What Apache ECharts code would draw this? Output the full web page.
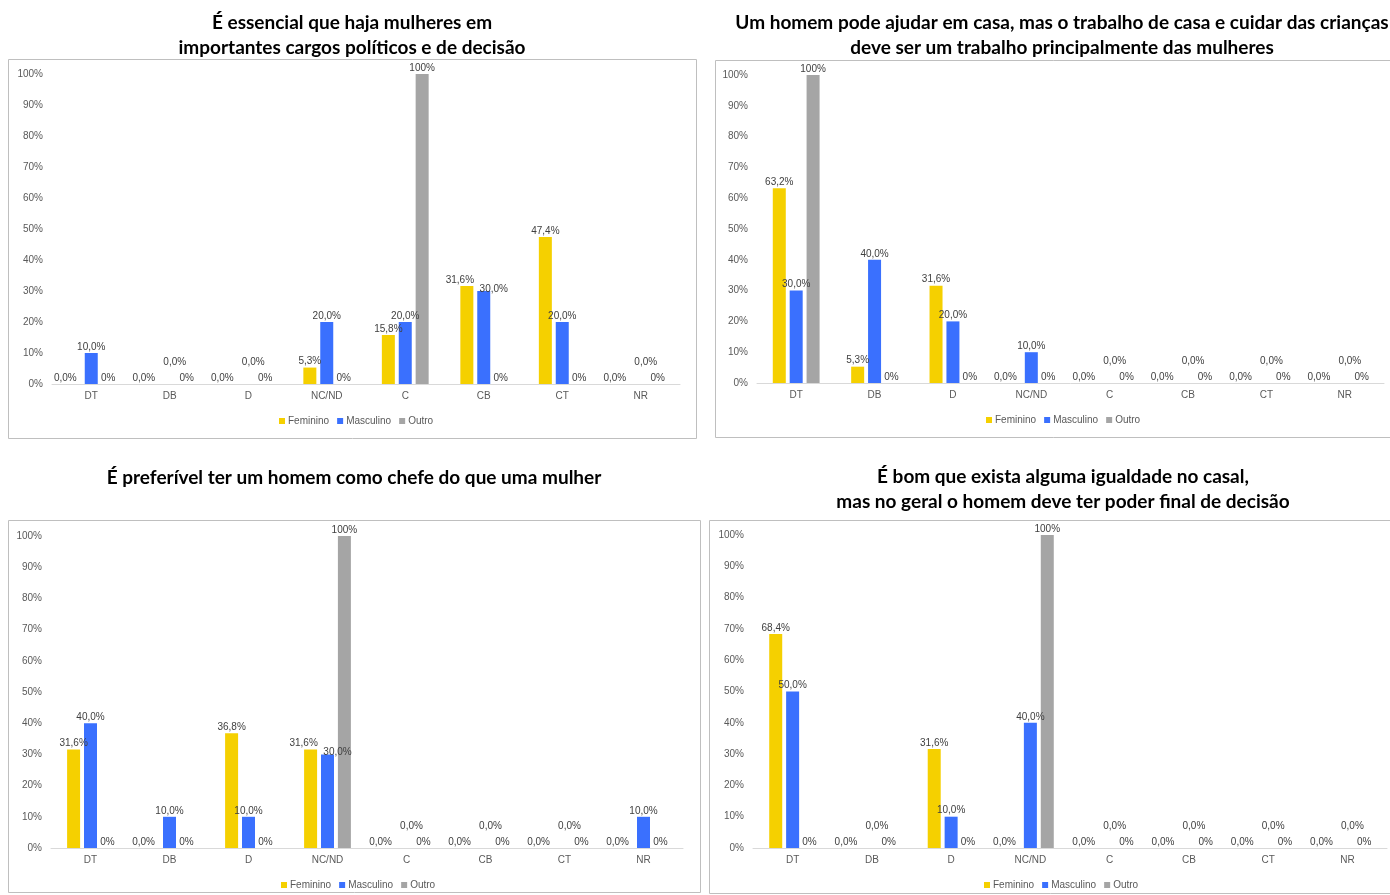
<!DOCTYPE html>
<html>
<head>
<meta charset="utf-8">
<script src="https://cdn.jsdelivr.net/npm/echarts@6/dist/echarts.min.js"></script>
<style>
html,body{margin:0;padding:0;background:#fff;}
#c{width:1390px;height:895px;}
</style>
</head>
<body>
<div id="c"></div>
<script>
// ---- data ----
const categories = ['DT','DB','D','NC/ND','C','CB','CT','NR'];
const seriesNames = ['Feminino','Masculino','Outro'];
const yTicks = [0,10,20,30,40,50,60,70,80,90,100];

const title1 = 'É essencial que haja mulheres em\nimportantes cargos políticos e de decisão';
const fem1 = [0, 0, 0, 5.3, 15.8, 31.6, 47.4, 0];
const masc1 = [10, 0, 0, 20, 20, 30, 20, 0];
const outro1 = [0, 0, 0, 0, 100, 0, 0, 0];

const title2 = 'Um homem pode ajudar em casa, mas o trabalho de casa e cuidar das crianças\ndeve ser um trabalho principalmente das mulheres';
const fem2 = [63.2, 5.3, 31.6, 0, 0, 0, 0, 0];
const masc2 = [30, 40, 20, 10, 0, 0, 0, 0];
const outro2 = [100, 0, 0, 0, 0, 0, 0, 0];

const title3 = 'É preferível ter um homem como chefe do que uma mulher';
const fem3 = [31.6, 0, 36.8, 31.6, 0, 0, 0, 0];
const masc3 = [40, 10, 10, 30, 0, 0, 0, 10];
const outro3 = [0, 0, 0, 100, 0, 0, 0, 0];

const title4 = 'É bom que exista alguma igualdade no casal,\nmas no geral o homem deve ter poder final de decisão';
const fem4 = [68.4, 0, 31.6, 0, 0, 0, 0, 0];
const masc4 = [50, 0, 10, 40, 0, 0, 0, 0];
const outro4 = [0, 0, 0, 100, 0, 0, 0, 0];

// ---- layout / style ----
const COLORS = ['#F5D000', '#3A70FE', '#A5A5A5'];
const panels = [
  {title: title1, data: [fem1, masc1, outro1], cx: 352, ty: 22, box: [8, 59, 688, 379], grid: {left: 52, top: 74, width: 628, height: 310}, legendLeft: 274, legendTop: 411},
  {title: title2, data: [fem2, masc2, outro2], cx: 1062, ty: 22, box: [715, 60, 680, 377], grid: {left: 757, top: 75, width: 627, height: 308}, legendLeft: 981, legendTop: 410},
  {title: title3, data: [fem3, masc3, outro3], cx: 354, ty: 477, box: [8, 520, 692, 372], grid: {left: 51, top: 536, width: 632, height: 312}, legendLeft: 276, legendTop: 875},
  {title: title4, data: [fem4, masc4, outro4], cx: 1063, ty: 476, box: [709, 520, 686, 373], grid: {left: 753, top: 535, width: 634, height: 313}, legendLeft: 979, legendTop: 875}
];

const fmtDec = v => v.toFixed(1).replace('.', ',') + '%';
const fmtInt = v => v.toFixed(0) + '%';

const option = {
  animation: false,
  backgroundColor: '#ffffff',
  color: COLORS,
  graphic: [],
  grid: [], xAxis: [], yAxis: [], legend: [], series: []
};

panels.forEach((p, i) => {
  option.graphic.push({
    type: 'rect', silent: true,
    shape: {x: p.box[0] + 0.5, y: p.box[1] + 0.5, width: p.box[2], height: p.box[3]},
    style: {fill: 'none', stroke: '#BFBFBF', lineWidth: 1}
  });
  const lines = p.title.split('\n');
  lines.forEach((ln, k) => {
    option.graphic.push({
      type: 'text', silent: true,
      x: p.cx, y: p.ty + 1 + k * 25,
      style: {text: ln, align: 'center', verticalAlign: 'middle', fill: '#000', font: 'bold 19px Lato'}
    });
  });
  option.grid.push(Object.assign({containLabel: false}, p.grid));
  option.xAxis.push({
    type: 'category', gridIndex: i, data: categories,
    axisLine: {lineStyle: {color: '#D9D9D9', width: 1}},
    axisTick: {show: false},
    axisLabel: {color: '#595959', fontSize: 10, fontFamily: 'Liberation Sans', margin: 7}
  });
  option.yAxis.push({
    type: 'value', gridIndex: i, min: yTicks[0], max: yTicks[yTicks.length - 1], interval: 10,
    splitLine: {show: false}, axisLine: {show: false}, axisTick: {show: false},
    axisLabel: {color: '#595959', fontSize: 10, fontFamily: 'Liberation Sans', margin: 9, formatter: '{value}%'}
  });
  option.legend.push({
    data: seriesNames, left: p.legendLeft, top: p.legendTop,
    icon: 'rect', itemWidth: 6, itemHeight: 6, itemGap: 8,
    textStyle: {color: '#595959', fontSize: 10, fontFamily: 'Liberation Sans', padding: [0, 0, 0, -2]}
  });
  const [fem, masc] = p.data;
  p.data.forEach((vals, s) => {
    const fmt = s === 2 ? fmtInt : fmtDec;
    option.series.push({
      type: 'bar', name: seriesNames[s], xAxisIndex: i, yAxisIndex: i,
      barWidth: 13, barGap: '30%',
      data: vals.map((v, j) => {
        if (v === 0 && s === 0) return {value: v, label: {offset: [-9, 0]}};
        if (v === 0 && s === 1) return {value: v, label: {offset: [5, -16]}};
        // neighbouring labels of similar height would collide: push them apart
        const close = fem[j] > 0 && masc[j] > 0 && Math.abs(fem[j] - masc[j]) < 4;
        if (close && s === 0) return {value: v, label: {offset: [-7, 0]}};
        if (close && s === 1) return {value: v, label: {offset: [10, 4]}};
        return v;
      }),
      label: {
        show: true, position: 'top', distance: 1,
        color: '#404040', fontSize: 10, fontFamily: 'Liberation Sans',
        formatter: prm => fmt(prm.value)
      }
    });
  });
});

const chart = echarts.init(document.getElementById('c'), null, {renderer: 'canvas'});
chart.setOption(option);
</script>
</body>
</html>
